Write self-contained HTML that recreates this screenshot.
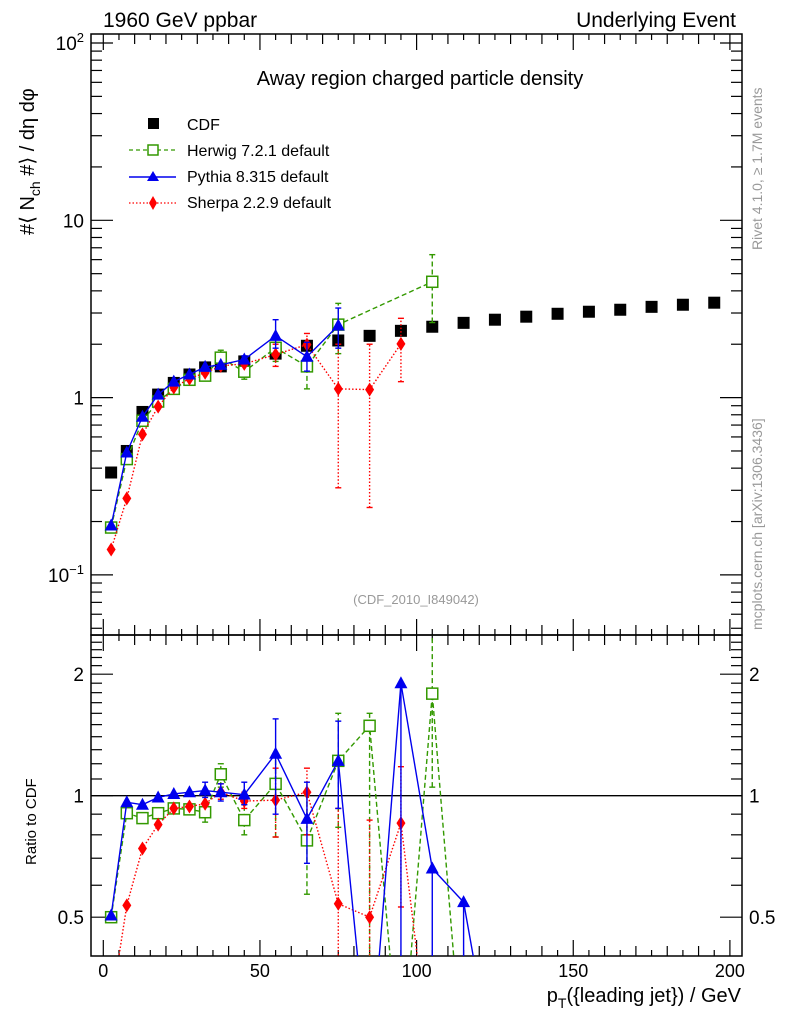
<!DOCTYPE html>
<html><head><meta charset="utf-8"><style>
html,body{margin:0;padding:0;background:#fff;overflow:hidden;width:786px;height:1024px;}
svg{display:block;overflow:hidden;font-family:"Liberation Sans","DejaVu Sans",sans-serif;}
</style></head><body>
<svg id="chart" width="786" height="1024" viewBox="0 0 786 1024" xmlns="http://www.w3.org/2000/svg">
<rect width="786" height="1024" fill="#fff"/>
<text x="103" y="27" font-size="21">1960 GeV ppbar</text>
<text x="736" y="27" font-size="21" text-anchor="end">Underlying Event</text>
<text x="420" y="85" font-size="20" text-anchor="middle">Away region charged particle density</text>
<text x="416" y="604" font-size="13" fill="#999" text-anchor="middle">(CDF_2010_I849042)</text>
<text transform="translate(762,250) rotate(-90)" font-size="14" fill="#999">Rivet 4.1.0, ≥ 1.7M events</text>
<text transform="translate(762,630) rotate(-90)" font-size="14" fill="#999">mcplots.cern.ch [arXiv:1306.3436]</text>
<text transform="translate(34,235) rotate(-90)" font-size="20">#⟨ N<tspan font-size="14" dy="6">ch</tspan><tspan dy="-6"> #⟩ / dη dφ</tspan></text>
<text transform="translate(36,865) rotate(-90)" font-size="15">Ratio to CDF</text>
<text x="741" y="1002" font-size="20" text-anchor="end">p<tspan font-size="14" dy="6">T</tspan><tspan dy="-6">({leading jet}) / GeV</tspan></text>
<g id="legend">
 <rect x="148" y="118" width="11" height="11" fill="#000"/>
 <text x="187" y="130" font-size="16">CDF</text>
 <line x1="129" y1="150" x2="176" y2="150" stroke="#339900" stroke-width="1.3" stroke-dasharray="4,3"/>
 <rect x="148" y="145" width="10" height="10" fill="#fff" stroke="#339900" stroke-width="1.5"/>
 <text x="187" y="156" font-size="16">Herwig 7.2.1 default</text>
 <line x1="129" y1="177" x2="176" y2="177" stroke="#0000ee" stroke-width="1.5"/>
 <polygon points="153,171 159,181 147,181" fill="#0000ee"/>
 <text x="187" y="182" font-size="16">Pythia 8.315 default</text>
 <line x1="129" y1="203" x2="176" y2="203" stroke="#ff0000" stroke-width="1.3" stroke-dasharray="1.5,2"/>
 <polygon points="153,196 157,203 153,210 149,203" fill="#ff0000"/>
 <text x="187" y="208" font-size="16">Sherpa 2.2.9 default</text>
</g>
<g id="plot"></g>
</svg>
<script>
// ---- data ----
const cdfX = [2.5,7.5,12.5,17.5,22.5,27.5,32.5,37.5,45,55,65,75,85,95,105,115,125,135,145,155,165,175,185,195];
const cdfY = [0.378,0.50,0.83,1.04,1.21,1.35,1.48,1.50,1.60,1.77,1.96,2.10,2.23,2.38,2.51,2.64,2.75,2.86,2.97,3.05,3.13,3.25,3.34,3.43];
const herwigX = [2.5,7.5,12.5,17.5,22.5,27.5,32.5,37.5,45,55,65,75,105];
const herwigY = [0.185,0.45,0.74,0.95,1.12,1.26,1.33,1.68,1.40,1.91,1.50,2.58,4.5];
const herwigLo = [null,null,null,null,null,null,null,1.55,1.27,1.6,1.12,1.77,2.65];
const herwigHi = [null,null,null,null,null,null,null,1.85,1.55,2.2,1.95,3.4,6.4];
const pythiaX = [2.5,7.5,12.5,17.5,22.5,27.5,32.5,37.5,45,55,65,75];
const pythiaY = [0.19,0.49,0.78,1.04,1.23,1.35,1.49,1.53,1.64,2.23,1.70,2.55];
const pythiaLo = [null,null,null,null,null,null,null,null,1.55,1.9,1.41,1.9];
const pythiaHi = [null,null,null,null,null,null,null,null,1.72,2.75,2.05,3.2];
const sherpaX = [2.5,7.5,12.5,17.5,22.5,27.5,32.5,37.5,45,55,65,75,85,95];
const sherpaY = [0.139,0.27,0.62,0.89,1.14,1.28,1.38,1.51,1.55,1.75,1.99,1.12,1.11,2.01];
const sherpaLo = [null,null,null,null,null,null,null,null,null,1.5,1.75,0.31,0.24,1.23];
const sherpaHi = [null,null,null,null,null,null,null,null,null,2.0,2.3,2.0,2.0,2.8];
// ratio panel
const rHerwigX = [2.5,7.5,12.5,17.5,22.5,27.5,32.5,37.5,45,55,65,75,85,95,105,115];
const rHerwigY = [0.50,0.905,0.88,0.905,0.93,0.925,0.91,1.13,0.87,1.07,0.775,1.22,1.49,0.2,1.79,0.2];
const rHerwigLo = [null,null,null,null,null,null,0.86,1.05,0.8,0.79,0.57,0.835,0.2,null,1.05,null];
const rHerwigHi = [null,null,null,null,null,null,0.96,1.2,0.95,1.27,1.0,1.6,1.6,null,3,null];
const rPythiaX = [2.5,7.5,12.5,17.5,22.5,27.5,32.5,37.5,45,55,65,75,85,95,105,115,125];
const rPythiaY = [0.505,0.963,0.95,0.99,1.01,1.02,1.03,1.02,1.006,1.27,0.876,1.22,0.2,1.9,0.66,0.545,0.2];
const rPythiaLo = [null,null,null,null,null,null,0.99,0.97,0.95,0.9,0.68,0.93,null,0.2,0.2,0.2,null];
const rPythiaHi = [null,null,null,null,null,null,1.08,1.07,1.08,1.55,1.08,1.53,null,1.9,0.66,0.545,null];
const rSherpaX = [2.5,7.5,12.5,17.5,22.5,27.5,32.5,37.5,45,55,65,75,85,95,105];
const rSherpaY = [0.3,0.535,0.74,0.848,0.93,0.94,0.955,1.02,0.97,0.975,1.02,0.54,0.5,0.855,0.2];
const rSherpaLo = [null,null,null,null,null,null,null,0.98,0.93,0.79,0.8,0.2,0.2,0.53,null];
const rSherpaHi = [null,null,null,null,null,null,null,1.07,1.02,1.17,1.17,0.93,0.87,1.18,null];
const xTicks = [0,50,100,150,200];
const mainYTicks = [0.1,1,10,100];
const mainYLabels = ["10^-1","1","10","10^2"];
const ratioTicks = [0.5,1,2];
const ratioLabels = ["0.5","1","2"];

// ---- geometry ----
const L=91, R=742, T=34, M=635, B=956;
const NS="http://www.w3.org/2000/svg";
const g=document.getElementById('plot');
const X=v=>103.3+v*3.133;
const Y=v=>397.6-Math.log10(v)*177.3;
const RY=v=>795.7-Math.log2(v)*121.5;
function el(t,a,p){const e=document.createElementNS(NS,t);for(const k in a)e.setAttribute(k,a[k]);(p||g).appendChild(e);return e;}

const defs=el('defs',{});
const c1=el('clipPath',{id:'cm'},defs);el('rect',{x:L,y:T,width:R-L,height:M-T},c1);
const c2=el('clipPath',{id:'cr'},defs);el('rect',{x:L,y:M,width:R-L,height:B-M},c2);

const fm=el('rect',{x:L,y:T,width:R-L,height:M-T,fill:'none',stroke:'#000','stroke-width':1.5});


const fr=el('rect',{x:L,y:M,width:R-L,height:B-M,fill:'none',stroke:'#000','stroke-width':1.5});



for(let v=0;v<=205;v+=5){
  const len = v%50===0?16:(v%10===0?10:6);
  const x=X(v); if(x<L||x>R) continue;
  el('line',{x1:x,y1:T,x2:x,y2:T+len,stroke:'#000','stroke-width':1.2});
  el('line',{x1:x,y1:M,x2:x,y2:M+len,stroke:'#000','stroke-width':1.2});
  el('line',{x1:x,y1:M,x2:x,y2:M-len,stroke:'#000','stroke-width':1.2});
  el('line',{x1:x,y1:B,x2:x,y2:B-len,stroke:'#000','stroke-width':1.2});
}
xTicks.forEach(v=>{
  const t=el('text',{x:X(v),y:977,'font-size':18,'text-anchor':'middle'});
  t.textContent=v;
  
  
});
for(let d=-2;d<=2;d++){for(let m=1;m<=9;m++){
  const v=m*Math.pow(10,d);const y=Y(v); if(y<T||y>M) continue;
  const len=m===1?22:11;
  el('line',{x1:L,y1:y,x2:L+len,y2:y,stroke:'#000','stroke-width':1.2});
  el('line',{x1:R,y1:y,x2:R-len,y2:y,stroke:'#000','stroke-width':1.2});
}}
mainYTicks.forEach((v,i)=>{
  const t=el('text',{x:84,y:Y(v)+7,'font-size':19,'text-anchor':'end'});
  const s=mainYLabels[i];
  if(s.indexOf('^')>0){const p=s.split('^');t.textContent=p[0];const ts=el('tspan',{dy:-8,'font-size':13},t);ts.textContent=p[1].replace('-','−');}
  else t.textContent=s;
  
  
});
for(let v=0.4;v<=2.6;v=Math.round((v+0.1)*10)/10){
  const y=RY(v); if(y<M||y>B) continue;
  const len=(v===0.5||v===1||v===2)?22:11;
  el('line',{x1:L,y1:y,x2:L+len,y2:y,stroke:'#000','stroke-width':1.2});
  el('line',{x1:R,y1:y,x2:R-len,y2:y,stroke:'#000','stroke-width':1.2});
}
ratioTicks.forEach((v,i)=>{
  const t=el('text',{x:84,y:RY(v)+7,'font-size':19,'text-anchor':'end'});t.textContent=ratioLabels[i];
  
  
  const t2=el('text',{x:749,y:RY(v)+7,'font-size':19});t2.textContent=ratioLabels[i];
  
  
});
const ul=el('line',{x1:L,y1:RY(1),x2:R,y2:RY(1),stroke:'#000','stroke-width':1.3});



function marker(kind,x,y,col,p){
  let e;
  if(kind==='sq') e=el('rect',{x:x-5.5,y:y-5.5,width:11,height:11,fill:'#fff',stroke:col,'stroke-width':1.5},p);
  else if(kind==='tri') e=el('polygon',{points:`${x},${y-7} ${x+6.5},${y+5} ${x-6.5},${y+5}`,fill:col},p);
  else if(kind==='dia') e=el('polygon',{points:`${x},${y-7} ${x+4.5},${y} ${x},${y+7} ${x-4.5},${y}`,fill:col},p);
  else e=el('rect',{x:x-6,y:y-6,width:12,height:12,fill:col},p);
  return e;
}
function series(name,xs,ys,lo,hi,yf,col,dash,kind,clip){
  const grp=el('g',{'clip-path':`url(#${clip})`});
  
  
  const pts=xs.map((x,i)=>X(x)+','+yf(ys[i])).join(' ');
  el('polyline',{points:pts,fill:'none',stroke:col,'stroke-width':1.4,'stroke-dasharray':dash},grp);
  xs.forEach((x,i)=>{
    if(lo[i]!=null){
      el('line',{x1:X(x),y1:yf(lo[i]),x2:X(x),y2:yf(hi[i]),stroke:col,'stroke-width':1.4,'stroke-dasharray':dash},grp);
      [lo[i],hi[i]].forEach(v=>el('line',{x1:X(x)-3,y1:yf(v),x2:X(x)+3,y2:yf(v),stroke:col,'stroke-width':1.4},grp));
    }
    const m=marker(kind,X(x),yf(ys[i]),col,grp);
    
    
  });
}
const cg=el('g',{'clip-path':'url(#cm)'});


cdfX.forEach((x,i)=>{
  const m=marker('cdf',X(x),Y(cdfY[i]),'#000',cg);
  
  
});
series('herwig-main',herwigX,herwigY,herwigLo,herwigHi,Y,'#339900','5,3','sq','cm');
series('sherpa-main',sherpaX,sherpaY,sherpaLo,sherpaHi,Y,'#ff0000','1.5,2','dia','cm');
series('pythia-main',pythiaX,pythiaY,pythiaLo,pythiaHi,Y,'#0000ee','','tri','cm');
series('herwig-ratio',rHerwigX,rHerwigY,rHerwigLo,rHerwigHi,RY,'#339900','5,3','sq','cr');
series('sherpa-ratio',rSherpaX,rSherpaY,rSherpaLo,rSherpaHi,RY,'#ff0000','1.5,2','dia','cr');
series('pythia-ratio',rPythiaX,rPythiaY,rPythiaLo,rPythiaHi,RY,'#0000ee','','tri','cr');
</script>
</body></html>
